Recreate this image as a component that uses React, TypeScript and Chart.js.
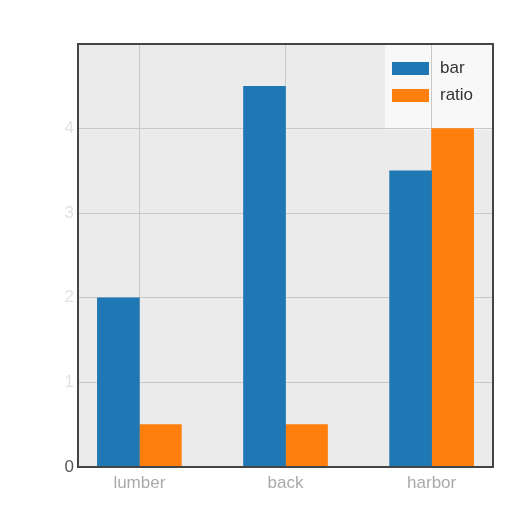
import { useEffect, useRef } from 'react';
import { Chart, registerables } from 'chart.js';

Chart.register(...registerables);

const categories = ['lumber', 'back', 'harbor'];
const barValues = [2.0, 4.5, 3.5];
const ratioValues = [0.5, 0.5, 4.0];
const yTicks = [0, 1, 2, 3, 4, 5];

const BLUE = '#1f77b4';
const ORANGE = '#ff7f0e';
const FONT = '"Liberation Sans", Arial, sans-serif';
const LEGEND_W = 108;
const LEGEND_H = 86;

// fond gris de la zone de tracé + fond de légende (sous la grille)
const plotFrame = {
  id: 'plotFrame',
  beforeDraw(chart: Chart) {
    const { ctx, chartArea: a } = chart;
    ctx.save();
    ctx.fillStyle = '#ebebeb';
    ctx.fillRect(a.left, a.top, a.right - a.left, a.bottom - a.top);
    ctx.fillStyle = '#f8f8f8';
    ctx.fillRect(a.right - LEGEND_W, a.top, LEGEND_W, LEGEND_H);
    ctx.restore();
  },
  afterDatasetsDraw(chart: Chart) {
    const { ctx, chartArea: a } = chart;
    ctx.save();
    ctx.strokeStyle = '#444';
    ctx.lineWidth = 2;
    ctx.strokeRect(a.left, a.top, a.right - a.left, a.bottom - a.top);
    ctx.restore();
  },
};

// légende dans le coin haut droit
const cornerLegend = {
  id: 'cornerLegend',
  afterDatasetsDraw(chart: Chart) {
    const { ctx, chartArea: a } = chart;
    const x = a.right - LEGEND_W;
    const y = a.top;
    ctx.save();
    ctx.font = '17px ' + FONT;
    ctx.textBaseline = 'middle';
    chart.data.datasets.forEach((ds, i) => {
      const ly = y + 24 + i * 27;
      ctx.fillStyle = ds.backgroundColor as string;
      ctx.fillRect(x + 7, ly - 6, 37, 13);
      ctx.fillStyle = '#333';
      ctx.fillText(ds.label as string, x + 55, ly);
    });
    ctx.restore();
  },
};

export default function App() {
  const canvasRef = useRef<HTMLCanvasElement>(null);
  const chartRef = useRef<Chart | null>(null);

  useEffect(() => {
    document.body.style.margin = '0';
    if (!canvasRef.current) return;
    if (chartRef.current) chartRef.current.destroy();

    chartRef.current = new Chart(canvasRef.current, {
      type: 'bar',
      data: {
        datasets: [
          {
            label: 'bar',
            data: barValues.map((v, i) => ({ x: i, y: v })),
            backgroundColor: BLUE,
            barThickness: 42,
          },
          {
            label: 'ratio',
            data: ratioValues.map((v, i) => ({ x: i, y: v })),
            backgroundColor: ORANGE,
            barThickness: 42,
          },
        ],
      },
      options: {
        responsive: false,
        animation: false,
        layout: { padding: { top: 44, right: 19, bottom: 12, left: 0 } },
        plugins: {
          legend: { display: false },
          tooltip: { enabled: false },
        },
        scales: {
          x: {
            type: 'linear',
            offset: false,
            min: -0.42,
            max: categories.length - 1 + 0.42,
            grid: { color: '#c8c8c8', lineWidth: 1, offset: false, drawTicks: false },
            border: { display: false },
            ticks: {
              stepSize: 1,
              includeBounds: false,
              color: '#aaa',
              font: { size: 17, family: FONT },
              padding: 6,
              callback: (v) => categories[Number(v)] ?? '',
            },
            afterFit: (s) => {
              s.height = 33;
            },
          },
          y: {
            min: yTicks[0],
            max: yTicks[yTicks.length - 1],
            afterBuildTicks: (s) => {
              s.ticks = yTicks.map((v) => ({ value: v }));
            },
            grid: { color: '#c8c8c8', lineWidth: 1, drawTicks: false },
            border: { display: false },
            ticks: {
              color: (c) =>
                c.tick.value === 0 ? '#555' : c.tick.value === 5 ? 'rgba(0,0,0,0)' : '#e2e2e2',
              font: { size: 17, family: FONT },
              padding: 4,
            },
            afterFit: (s) => {
              s.width = 78;
            },
          },
        },
      },
      plugins: [plotFrame, cornerLegend],
    });

    return () => {
      if (chartRef.current) chartRef.current.destroy();
    };
  }, []);

  return (
    <div style={{ width: 512, height: 512, background: '#fff' }}>
      <canvas ref={canvasRef} width={512} height={512} />
    </div>
  );
}
